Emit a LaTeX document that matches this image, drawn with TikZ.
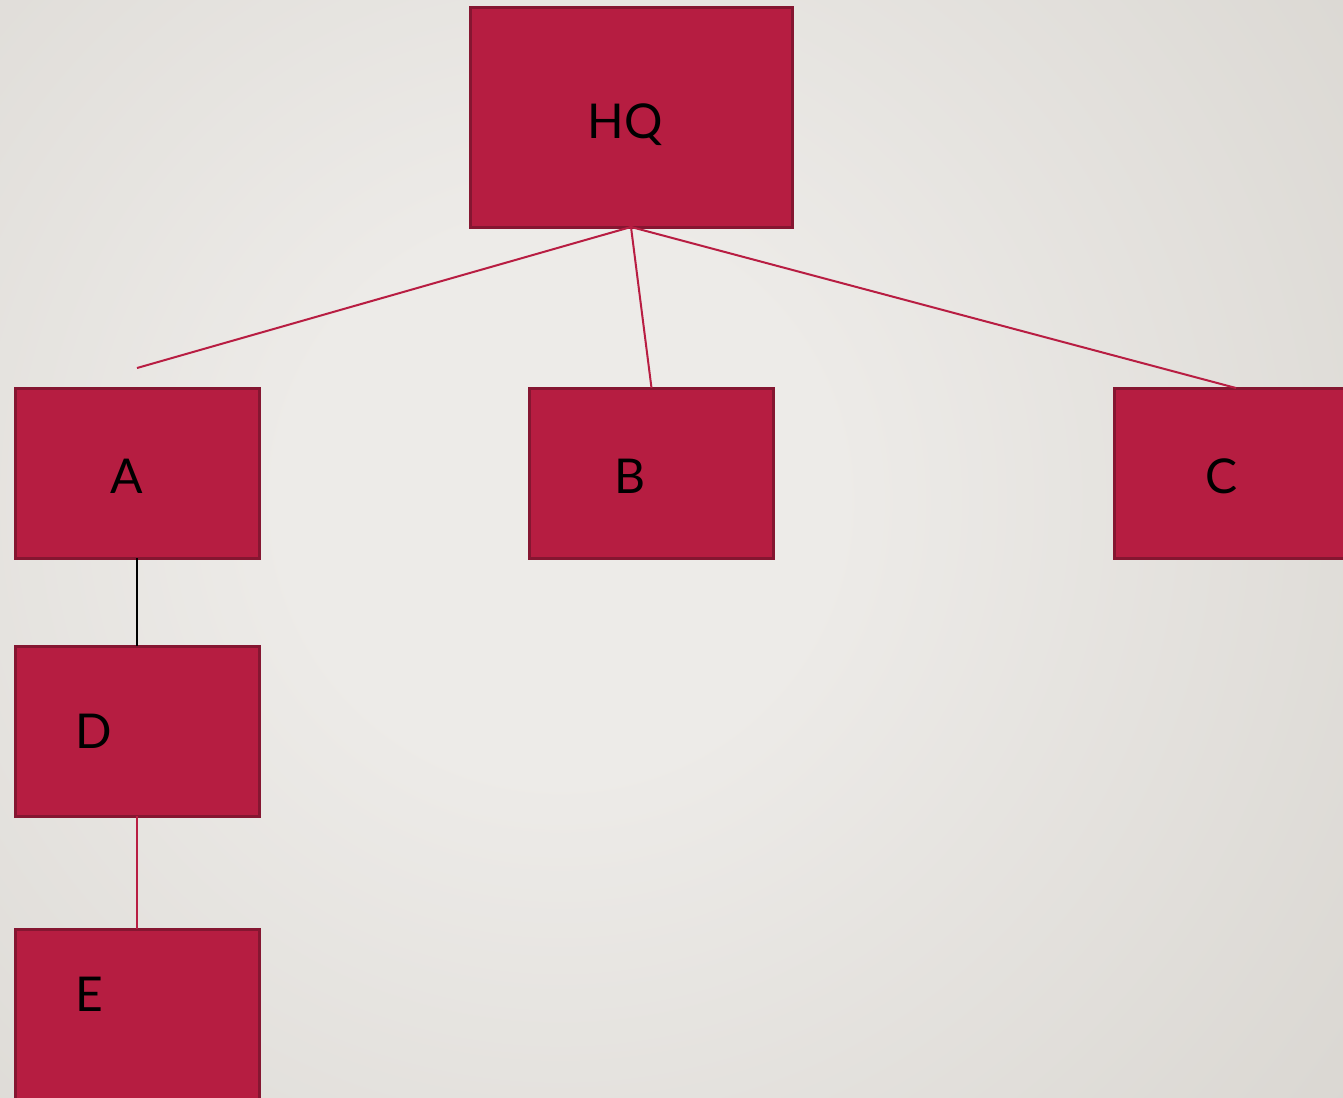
\documentclass[tikz,border=0pt]{standalone}
\usepackage{fontspec}
\setmainfont{Lato}
\definecolor{bgin}{HTML}{EDEBE8}
\definecolor{bgout}{HTML}{C7C3BC}
\definecolor{boxfill}{HTML}{B61D41}
\definecolor{boxedge}{HTML}{851631}
\definecolor{linkred}{HTML}{B81D42}
\pgfdeclareradialshading{bgshade}{\pgfpoint{0bp}{0bp}}{color(0bp)=(bgin); color(8bp)=(bgin); color(50bp)=(bgout)}
\tikzset{
  box/.style={rectangle, draw=boxedge, fill=boxfill, line width=3pt, inner sep=0pt, outer sep=0pt},
  lbl/.style={anchor=base, inner sep=0pt, font=\fontsize{48}{58}\selectfont, text=black},
  link/.style={draw=linkred, line width=2pt},
  blacklink/.style={draw=black, line width=2pt}
}
\begin{document}
\begin{tikzpicture}[x=1pt,y=-1pt]
\useasboundingbox (0,0) rectangle (1343,1097);
\begin{scope}
\clip (0,0) rectangle (1343,1097);
% soft radial backdrop
\shade[shading=bgshade] (-300,-360) rectangle (1420,1360);

% boxes
\node[box, minimum width=322pt, minimum height=219pt] (hq) at (631,117.5) {};
\node[box, minimum width=244pt, minimum height=170pt] (a) at (137,473) {};
\node[box, minimum width=244pt, minimum height=170pt] (b) at (651.5,473) {};
\node[box, minimum width=244pt, minimum height=170pt] (c) at (1236,473) {};
\node[box, minimum width=244pt, minimum height=170pt] (d) at (137,731) {};
\node[box, minimum width=244pt, minimum height=170pt] (e) at (137,1014) {};

% labels
\node[lbl] (thq) at (625,139) {HQ};
\node[lbl] (ta) at (127,493) {A};
\node[lbl] (tb) at (630,493) {B};
\node[lbl] (tc) at (1222,493) {C};
\node[lbl] (td) at (94,748) {D};
\node[lbl] (te) at (89,1011) {E};

% connectors
\coordinate (aend) at (137,368);
\draw[link] (hq.south) -- (aend);
\draw[link] (hq.south) -- (b.north);
\draw[link] (hq.south) -- (c.north);
\draw[blacklink] (a.south) -- (d.north);
\draw[link] (d.south) -- (e.north);
\end{scope}
\end{tikzpicture}
\end{document}
